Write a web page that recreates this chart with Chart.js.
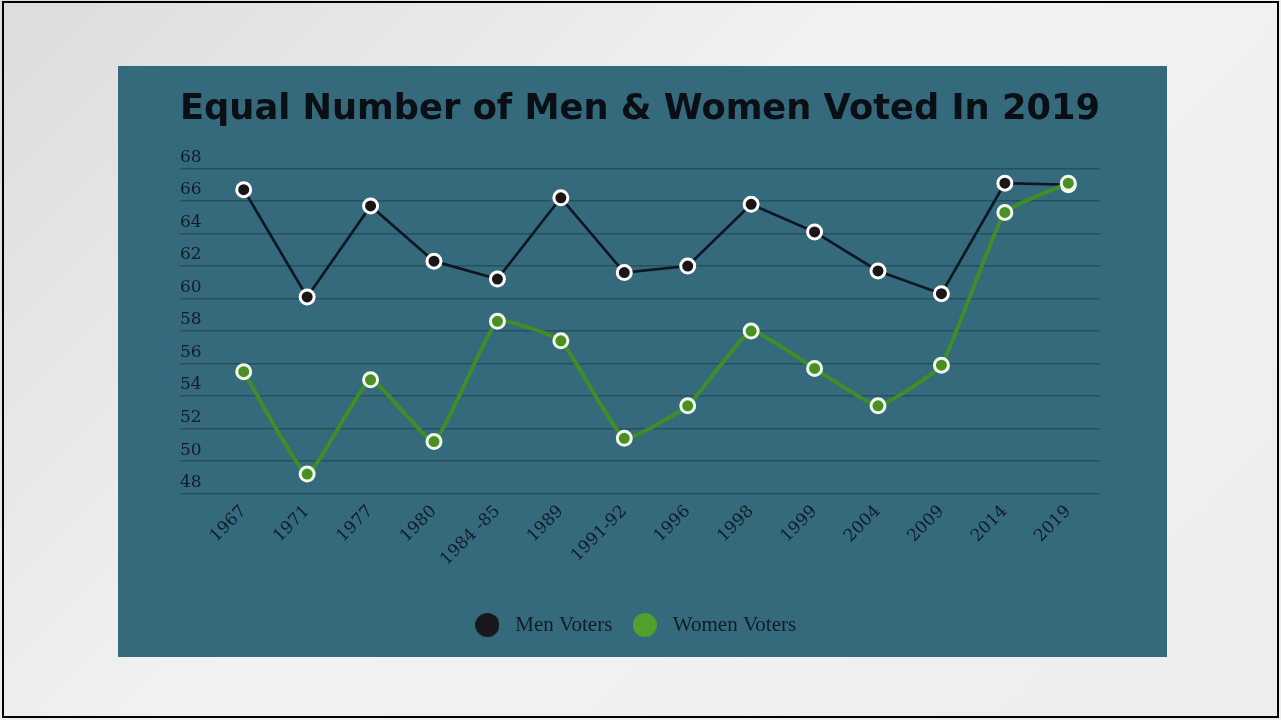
<!DOCTYPE html>
<html><head><meta charset="utf-8">
<script src="https://cdn.jsdelivr.net/npm/chart.js@4"></script>
<style>
html,body{margin:0;padding:0;width:1281px;height:720px;overflow:hidden;}
body{background:linear-gradient(135deg,#dcdcdc 0%,#f2f2f2 45%,#ededed 100%);position:relative;}
#frame{position:absolute;left:2px;top:1px;width:1277px;height:717px;border:2px solid #000;box-sizing:border-box;}
#panel{position:absolute;left:118px;top:66px;width:1049px;height:591px;background:#35697c;}
canvas{display:block;}
</style></head><body>
<div id="frame"></div>
<div id="panel"><canvas id="c" width="1049" height="591"></canvas></div>
<script>
const categories = ['1967','1971','1977','1980','1984 -85','1989','1991-92','1996','1998','1999','2004','2009','2014','2019'];
const menVoters = [66.7, 60.1, 65.7, 62.3, 61.2, 66.2, 61.6, 62.0, 65.8, 64.1, 61.7, 60.3, 67.1, 67.0];
const womenVoters = [55.5, 49.2, 55.0, 51.2, 58.6, 57.4, 51.4, 53.4, 58.0, 55.7, 53.4, 55.9, 65.3, 67.1];
const yTicks = [48, 50, 52, 54, 56, 58, 60, 62, 64, 66, 68];
const seriesNames = ['Men Voters', 'Women Voters'];
const titleText = 'Equal Number of Men & Women Voted In 2019';

const textColor = '#101d29';
const gridColor = '#27505f';
const menLine = '#0d1823', menFill = '#1a1517';
const womenLine = '#3f8c29', womenFill = '#4b8f24';
const legendColors = ['#18171b', '#52a02d'];

function dot(color){
  const c = document.createElement('canvas');
  c.width = 24; c.height = 24;
  const g = c.getContext('2d');
  g.fillStyle = color; g.beginPath(); g.arc(12,12,12,0,Math.PI*2); g.fill();
  return c;
}
const dots = legendColors.map(dot);

const legendShift = {
  id: 'legendShift',
  afterLayout(chart) {
    if (chart.legend) { chart.legend.left -= 7; chart.legend.right -= 7; }
  }
};

new Chart(document.getElementById('c'), {
  type: 'line',
  data: {
    labels: categories,
    datasets: [
      { label: seriesNames[0], data: menVoters, order: 1,
        borderColor: menLine, borderWidth: 2.7, tension: 0,
        pointBackgroundColor: menFill, pointBorderColor: '#ffffff',
        pointBorderWidth: 3, pointRadius: 7 },
      { label: seriesNames[1], data: womenVoters, order: 0,
        borderColor: womenLine, borderWidth: 4, tension: 0.12,
        pointBackgroundColor: womenFill, pointBorderColor: '#eef8e8',
        pointBorderWidth: 3, pointRadius: 7 }
    ]
  },
  plugins: [legendShift],
  options: {
    responsive: false,
    animation: false,
    devicePixelRatio: 1,
    layout: { padding: { left: 62, right: 67, top: 0, bottom: 11.5 } },
    plugins: {
      tooltip: { enabled: false },
      title: {
        display: true, text: titleText, align: 'start', color: '#0a0f15',
        font: { family: 'DejaVu Sans', weight: 'bold', size: 35.6, lineHeight: 1.2 },
        padding: { top: 22.6, bottom: 37.2 }
      },
      legend: {
        position: 'bottom',
        labels: {
          usePointStyle: true, pointStyleWidth: 35, padding: 15, color: textColor,
          font: { family: 'Liberation Serif', size: 21 },
          generateLabels: chart => chart.data.datasets.map((ds, i) => ({
            text: ds.label, fillStyle: legendColors[i], strokeStyle: legendColors[i],
            lineWidth: 0, pointStyle: dots[i], hidden: !chart.isDatasetVisible(i),
            datasetIndex: i, fontColor: textColor
          }))
        }
      }
    },
    scales: {
      x: {
        offset: true,
        afterFit: s => { s.height = 105.9; },
        grid: { display: false, drawTicks: false },
        border: { display: false },
        ticks: { autoSkip: false, maxRotation: 45, minRotation: 45, padding: 8,
          color: textColor, font: { family: 'DejaVu Serif', size: 17 } }
      },
      y: {
        min: 48, max: 68,
        afterFit: s => { s.width = 32; },
        afterBuildTicks: s => { s.ticks = yTicks.map(v => ({ value: v })); },
        border: { display: false },
        grid: { color: gridColor, lineWidth: 1.5, drawTicks: true, tickLength: 32, tickColor: gridColor },
        ticks: { crossAlign: 'far', labelOffset: -11, padding: 0, color: textColor,
          font: { family: 'DejaVu Serif', size: 17 } }
      }
    }
  }
});
</script>
</body></html>
